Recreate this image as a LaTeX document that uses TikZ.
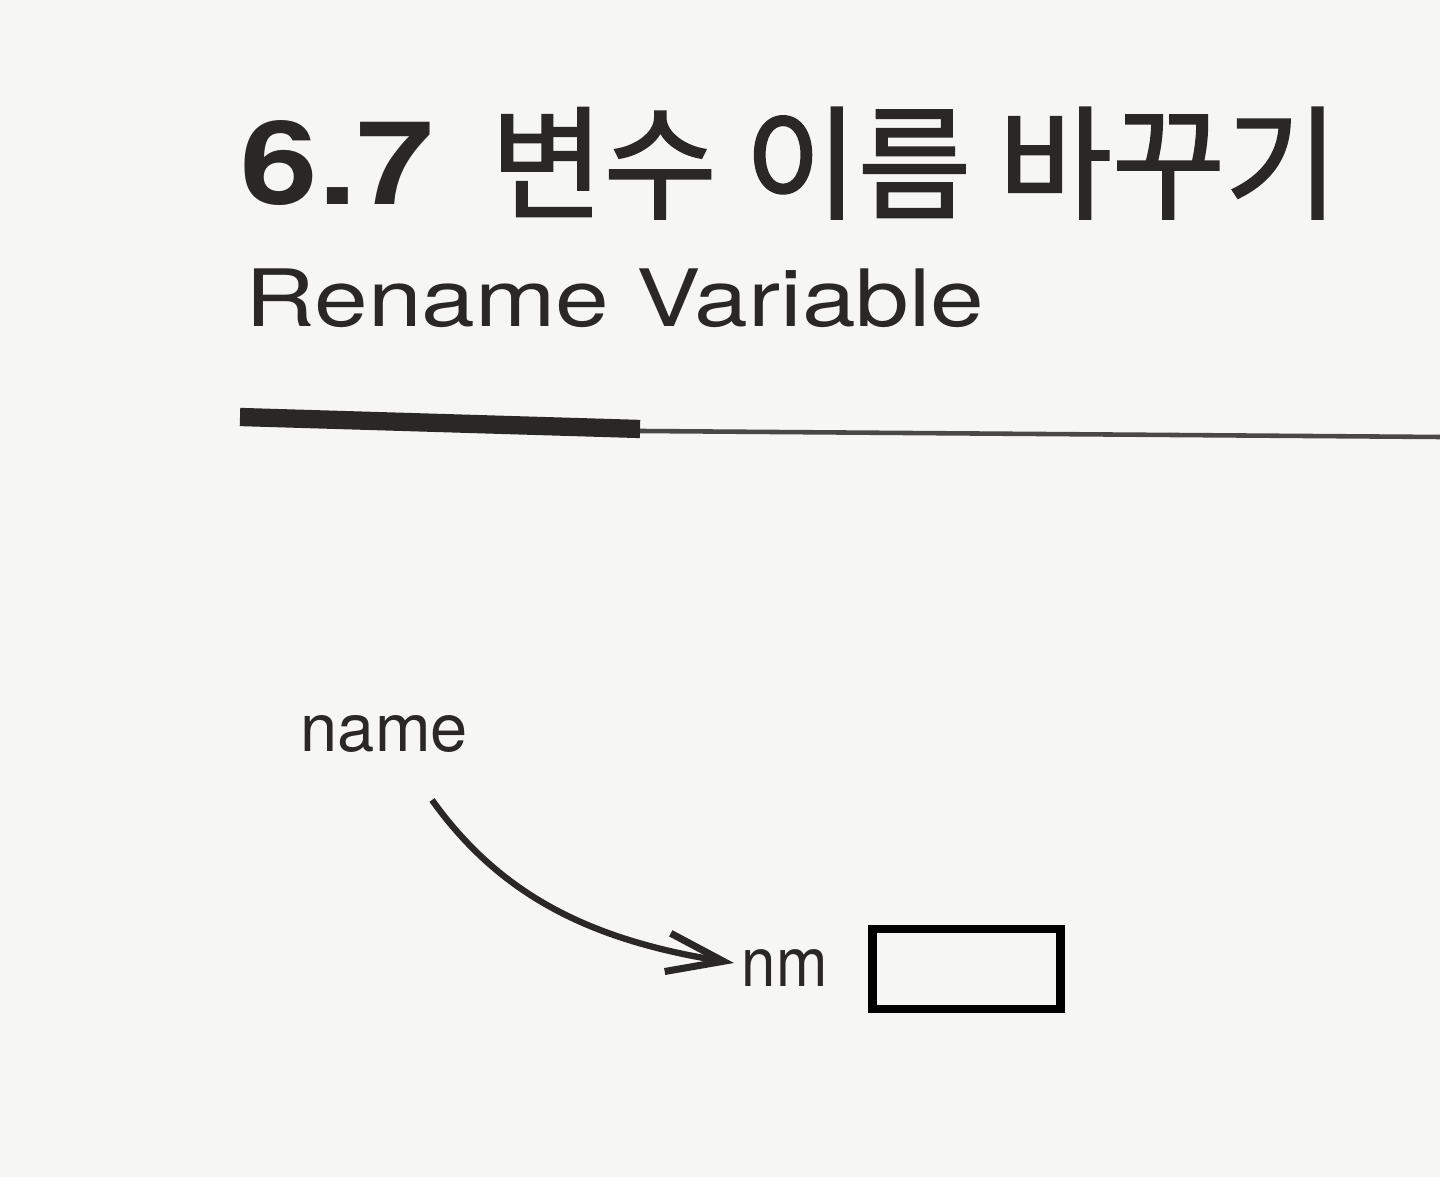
\documentclass[tikz,border=0pt]{standalone}
\usepackage{fontspec}
\setmainfont{TeX Gyre Heros}
\newfontfamily\cjk[FakeBold=1.6]{Noto Sans CJK KR}
\usetikzlibrary{arrows.meta}
\definecolor{ink}{HTML}{2A2826}
\definecolor{paper}{HTML}{F6F6F5}
\tikzset{
  txt/.style={inner sep=0pt, anchor=base west, text=ink},
  conn/.style={draw=ink, line width=1.8pt, -{Straight Barb[length=16pt,width=11pt,line width=2pt]}},
  cell/.style={draw=black, line width=2.5pt, minimum width=1.88cm, minimum height=0.80cm, inner sep=0pt},
}
\begin{document}
\begin{tikzpicture}[x=0.01cm,y=-0.01cm]
\fill[paper] (0,0) rectangle (1440,1177);
\useasboundingbox (0,0) rectangle (1440,1177);
% title
\node[txt] (title) at (240,205) {\fontsize{33pt}{40pt}\selectfont\bfseries\addfontfeature{FakeStretch=1.2}6.7\hspace{16pt}{\cjk\mdseries\fontsize{35pt}{40pt}\selectfont\raisebox{-1.2pt}{변수 이름 바꾸기}}};
\node[txt] (sub) at (245,327) {\fontsize{22.5pt}{26pt}\selectfont\addfontfeature{FakeStretch=1.22}Rename Variable};
% rules
\draw[ink, line width=5.2pt] (240,417) -- (640,429);
\draw[ink!85, line width=1.3pt] (640,431) -- (1440,437);
% diagram
\node[txt] (name) at (300,752) {\fontsize{19pt}{22pt}\selectfont name};
\node[txt] (nm) at (741,986) {\fontsize{19.5pt}{22pt}\selectfont\addfontfeature{FakeStretch=0.9}nm};
\node[cell, anchor=center] (box) at (966.5,969) {};
\coordinate (a0) at (432,800);
\draw[conn] (a0) .. controls (500,895) and (590,940) .. ([xshift=-2pt]nm.west |- 0,963);
\end{tikzpicture}
\end{document}
